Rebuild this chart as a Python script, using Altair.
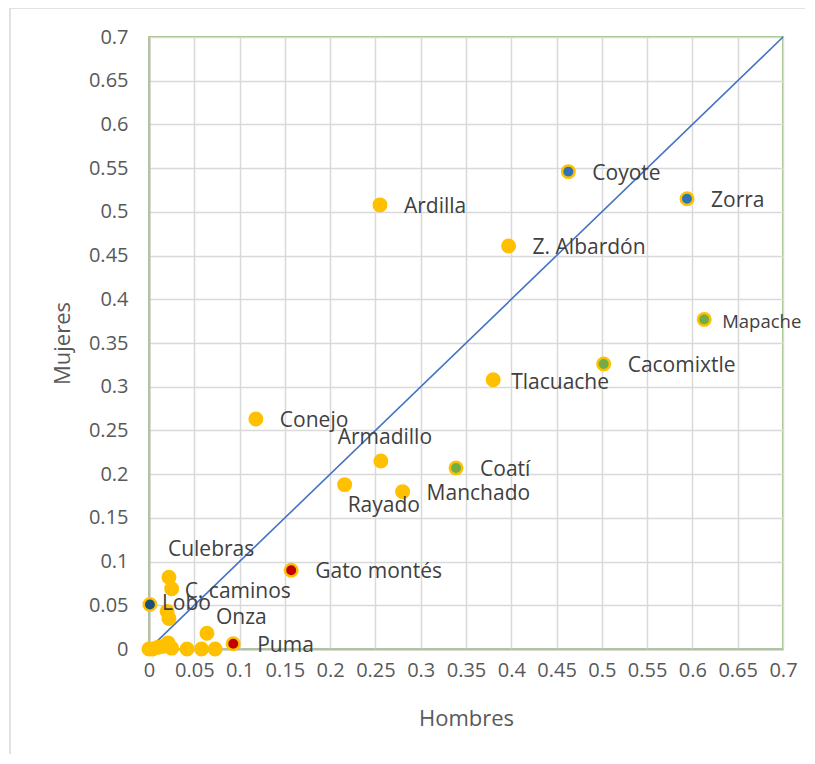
import altair as alt
import pandas as pd

# ---- data ----
nombres = ["Coyote", "Zorra", "Ardilla", "Z. Albardón", "Mapache", "Cacomixtle",
           "Tlacuache", "Conejo", "Armadillo", "Coatí", "Rayado", "Manchado",
           "Gato montés", "Lobo", "Culebras", "C. caminos", "Onza", "Puma",
           "", "", "", "", "", "", "", "", "", "", ""]
hombres = [0.463, 0.594, 0.255, 0.397, 0.613, 0.502,
           0.380, 0.118, 0.256, 0.339, 0.216, 0.280,
           0.157, 0.001, 0.022, 0.025, 0.064, 0.093,
           0.020, 0.022, 0.000, 0.010, 0.021, 0.025, 0.042, 0.058, 0.073, 0.004, 0.015]
mujeres = [0.546, 0.515, 0.508, 0.461, 0.377, 0.326,
           0.308, 0.263, 0.215, 0.207, 0.188, 0.180,
           0.090, 0.051, 0.082, 0.069, 0.018, 0.006,
           0.043, 0.035, 0.000, 0.002, 0.007, 0.001, 0.000, 0.000, 0.000, 0.000, 0.003]
grupo = ["azul", "azul", "amarillo", "amarillo", "verde", "verde",
         "amarillo", "amarillo", "amarillo", "verde", "amarillo", "amarillo",
         "rojo", "azul oscuro", "amarillo", "amarillo", "amarillo", "rojo",
         "amarillo", "amarillo", "amarillo", "amarillo", "amarillo", "amarillo",
         "amarillo", "amarillo", "amarillo", "amarillo", "amarillo"]

linea_x = [0.005, 0.7]
linea_y = [0.005, 0.7]

ticks = [round(i * 0.05, 2) for i in range(15)]

grupos_dom = ["amarillo", "azul", "azul oscuro", "verde", "rojo"]
grupos_col = ["#FFC000", "#2E75B6", "#1F4E79", "#70AD47", "#C00000"]

df = pd.DataFrame({"nombre": nombres, "Hombres": hombres, "Mujeres": mujeres, "grupo": grupo})
dl = pd.DataFrame({"Hombres": linea_x, "Mujeres": linea_y})

FONT = "Open Sans"
xs = alt.Scale(domain=[0, 0.7], nice=False, zero=False)
ys = alt.Scale(domain=[0, 0.7], nice=False, zero=False)

base = alt.Chart(df)

x_enc = alt.X("Hombres:Q", scale=xs, title="Hombres",
              axis=alt.Axis(values=ticks, format=".2~f", ticks=False, labelPadding=11,
                            titlePadding=28, labelFlush=False, labelOverlap=False))
y_enc = alt.Y("Mujeres:Q", scale=ys, title="Mujeres",
              axis=alt.Axis(values=ticks, format=".2~f", ticks=False, labelPadding=21,
                            titlePadding=14, labelOverlap=False))

linea = alt.Chart(dl).mark_line(color="#4472C4", strokeWidth=1.6).encode(
    x=alt.X("Hombres:Q", scale=xs), y=alt.Y("Mujeres:Q", scale=ys))

puntos = base.mark_point(shape="circle", filled=True, size=155, opacity=1,
                         stroke="#FFC000", strokeWidth=2.5).encode(
    x=x_enc, y=y_enc,
    fill=alt.Fill("grupo:N", scale=alt.Scale(domain=grupos_dom, range=grupos_col), legend=None),
)

# label offsets (px) relative to each point: dx, dy, align, font size
offsets = {
    "Tlacuache": (18, 3, "left", 21),
    "Armadillo": (4, -23, "center", 21),
    "Rayado": (3, 21, "left", 21),
    "Culebras": (-1, -27, "left", 21),
    "C. caminos": (13, 3, "left", 21),
    "Lobo": (12, 0, "left", 21),
    "Onza": (9, -15, "left", 21),
    "Mapache": (18, 3, "left", 18.5),
}

def etiquetas(filtro, dx, dy, align, fs=21):
    return base.transform_filter(filtro).mark_text(
        font=FONT, fontSize=fs, color="#404040", align=align, baseline="middle",
        dx=dx, dy=dy).encode(
        x=alt.X("Hombres:Q", scale=xs), y=alt.Y("Mujeres:Q", scale=ys), text="nombre:N")

especiales = list(offsets.keys())
capas = [etiquetas(
    "datum.nombre != '' && indexof(" + str(especiales).replace("'", '"') + ", datum.nombre) < 0",
    24, 2, "left")]
for nom, (dx, dy, al, fs) in offsets.items():
    capas.append(etiquetas(alt.datum.nombre == nom, dx, dy, al, fs))

marco = pd.DataFrame({"a": [0]})
borde_izq = alt.Chart(marco).mark_rule(color="#D9D9D9", strokeWidth=1.5).encode(
    x=alt.value(-139), y=alt.value(-29), y2=alt.value(720))
borde_sup = alt.Chart(marco).mark_rule(color="#D9D9D9", strokeWidth=1.5).encode(
    x=alt.value(-139), x2=alt.value(700), y=alt.value(-29))

chart = alt.layer(borde_izq, borde_sup, linea, puntos, *capas).properties(
    width=634, height=612,
    autosize=alt.AutoSizeParams(type="none"),
    padding={"left": 141, "top": 29, "right": 22, "bottom": 105},
).configure_view(
    stroke="#7FB05A", strokeWidth=1.5
).configure_axis(
    grid=True, gridColor="#D9D9D9", gridWidth=1.5,
    domainColor="#B7BDB0", domainWidth=2,
    labelFont=FONT, labelFontSize=20, labelColor="#595959",
    titleFont=FONT, titleFontSize=22, titleColor="#595959", titleFontWeight="normal",
)

chart.save("out.html", embed_options={"renderer": "svg", "actions": False})
